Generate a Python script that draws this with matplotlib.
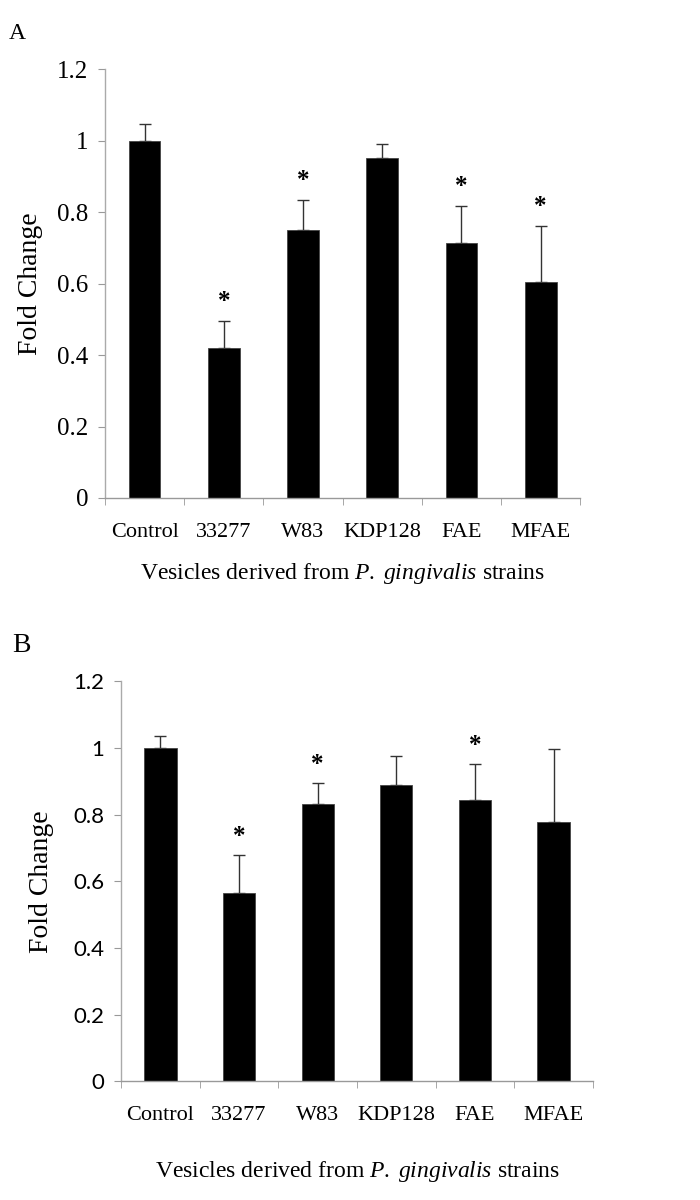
import matplotlib
matplotlib.use("Agg")
import matplotlib.pyplot as plt
import numpy as np

# Data
strains = ["Control", "33277", "W83", "KDP128", "FAE", "MFAE"]

fold_a = [1.0, 0.42, 0.75, 0.951, 0.713, 0.603]
err_a = [0.045, 0.075, 0.083, 0.038, 0.104, 0.157]
sig_a = [False, True, True, False, True, True]

fold_b = [1.0, 0.565, 0.832, 0.89, 0.845, 0.778]
err_b = [0.037, 0.115, 0.063, 0.087, 0.107, 0.219]
sig_b = [False, True, True, False, True, False]

yticks = [0, 0.2, 0.4, 0.6, 0.8, 1.0, 1.2]
ytick_labels = ["0", "0.2", "0.4", "0.6", "0.8", "1", "1.2"]

SERIF = "Liberation Serif"
SANS = "Lato"


def draw_panel(ax, values, errors, sig, bar_width, tick_font, tick_size,
               ylabel_pad, xlabel_pad):
    x = np.arange(len(strains)) + 0.5
    ax.bar(x, values, width=bar_width, color="black", edgecolor="#444444",
           linewidth=0.6, zorder=2)
    lower = np.zeros(len(values))
    ax.errorbar(x, values, yerr=[lower, errors], fmt="none", ecolor="#333333",
                elinewidth=1.0, capsize=4, capthick=1.0, zorder=1)
    for xi, v, e, s in zip(x, values, errors, sig):
        if s:
            ax.text(xi, v + e + 0.055, "*", ha="center", va="center",
                    fontsize=18, fontweight="bold", family=SERIF)

    ax.set_xlim(0, len(strains))
    ax.set_ylim(0, 1.2)
    ax.set_yticks(yticks)
    ax.set_yticklabels(ytick_labels, fontsize=tick_size, family=tick_font)
    ax.set_xticks(x)
    ax.set_xticklabels(strains, fontsize=16, family=SERIF)
    ax.set_xticks(np.arange(len(strains) + 1), minor=True)
    ax.tick_params(axis="x", which="major", length=0, pad=18)
    ax.tick_params(axis="x", which="minor", length=5, color="#999999")
    ax.tick_params(axis="y", length=5, color="#999999", pad=7)

    for side in ["top", "right"]:
        ax.spines[side].set_visible(False)
    ax.spines["left"].set_color("#aaaaaa")
    ax.spines["bottom"].set_color("#999999")
    ax.spines["left"].set_linewidth(1.0)
    ax.spines["bottom"].set_linewidth(1.0)

    ax.set_ylabel("Fold Change", fontsize=20, family=SERIF, labelpad=ylabel_pad)
    ax.set_xlabel("Vesicles derived from $\\it{P.\\;gingivalis}$ strains",
                  fontsize=17, family=SERIF, labelpad=xlabel_pad)


plt.rcParams["mathtext.fontset"] = "custom"
plt.rcParams["mathtext.it"] = "Liberation Serif:italic"
plt.rcParams["mathtext.rm"] = "Liberation Serif"

fig = plt.figure(figsize=(7, 12), dpi=100)

ax_a = fig.add_axes([0.150, 0.585, 0.679, 0.3575])
draw_panel(ax_a, fold_a, err_a, sig_a, 0.40, SERIF, 18, 10, 14)

ax_b = fig.add_axes([0.173, 0.099, 0.674, 0.3333])
draw_panel(ax_b, fold_b, err_b, sig_b, 0.41, SANS, 16, 14, 24)

fig.text(0.012, 0.972, "A", fontsize=17, family=SERIF, va="center")
fig.text(0.017, 0.4625, "B", fontsize=20, family=SERIF, va="center")

fig.savefig("out.png", dpi=100, facecolor="white")
